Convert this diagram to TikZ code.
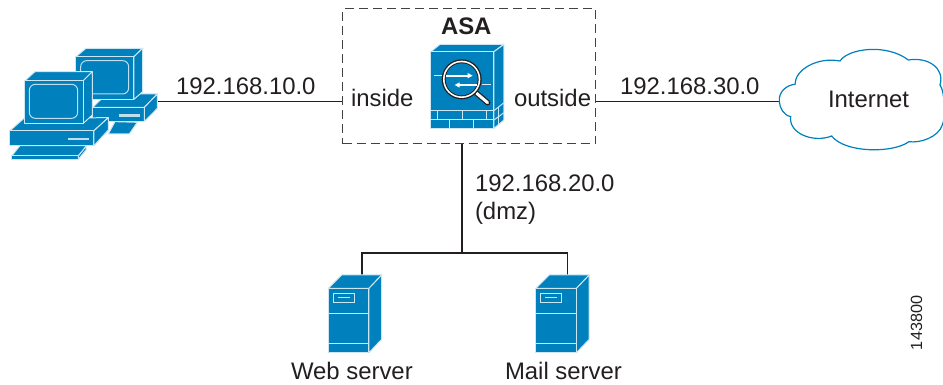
\documentclass[tikz,border=0pt]{standalone}
\usepackage{fontspec}
\setmainfont{Liberation Sans}
\definecolor{ciscoblue}{HTML}{0080BC}
\definecolor{inkc}{HTML}{231F20}
\tikzset{
  lbl/.style={anchor=base west,inner sep=0pt,outer sep=0pt,text=inkc,font=\fontsize{23.9}{26}\selectfont},
  wire/.style={draw=inkc,line width=1.1pt},
  face/.style={fill=ciscoblue,draw=white!80!ciscoblue,line width=1pt,line join=round},
  thin/.style={draw=white!80!ciscoblue,line width=1pt},
  cloudline/.style={draw=ciscoblue,line width=1.2pt,fill=white},
  pcscreen/.style={draw=white!75!ciscoblue,line width=1pt,rounded corners=6pt},
}
\newcommand{\serverunit}[2]{%
  \begin{scope}[shift={(#1,#2)},x=0.3333pt,y=-0.3333pt]
    \path[face] (115,145) -- (155,105) -- (275,105) -- (237,145) -- cycle;
    \path[face] (237,145) -- (275,105) -- (275,298) -- (237,338) -- cycle;
    \path[face] (115,145) rectangle (237,338);
    \draw[thin] (115,220) -- (237,220) (115,310) -- (237,310);
    \draw[thin] (130,160) rectangle (193,188);
    \draw[thin] (143,174) -- (180,174);
  \end{scope}}
\newcommand{\pcunit}[2]{%
  \begin{scope}[shift={(#1,#2)},x=0.3333pt,y=-0.3333pt]
    % keyboard
    \path[face] (35,378) -- (60,347) -- (260,347) -- (235,378) -- cycle;
    \path[face] (35,378) -- (235,378) -- (235,388) -- (35,388) -- cycle;
    \path[face] (235,378) -- (260,347) -- (258,360) -- (235,388) -- cycle;
    % base
    \path[face] (30,302) -- (72,265) -- (325,263) -- (282,302) -- cycle;
    \path[face] (30,302) rectangle (282,347);
    \path[face] (282,302) -- (325,263) -- (325,300) -- (282,347) -- cycle;
    \fill[white!75!ciscoblue] (205,323) rectangle (268,330);
    % monitor
    \path[face] (75,152) -- (105,125) -- (277,125) -- (250,152) -- cycle;
    \path[face] (250,152) -- (277,125) -- (277,255) -- (250,280) -- cycle;
    \path[face] (75,152) rectangle (250,280);
    \draw[pcscreen] (88,163) rectangle (233,265);
  \end{scope}}
\begin{document}
\begin{tikzpicture}[x=1pt,y=-1pt]
\useasboundingbox (0,0) rectangle (943,385);

% anchors for connectors
\coordinate (pc) at (158,101.7);
\coordinate (boxL) at (343,101.7);
\coordinate (boxR) at (596,101.7);
\coordinate (cloudL) at (779,101.7);
\coordinate (boxB) at (462,144);
\coordinate (tee) at (462,253);
\coordinate (webtop) at (362,275);
\coordinate (mailtop) at (567.7,275);

% connectors
\draw[wire] (pc) -- (boxL);
\draw[wire] (boxR) -- (cloudL);
\draw[wire] (boxB) -- (tee);
\draw[wire] (webtop) |- (tee) -| (mailtop);

% PCs (back one first)
\begin{scope}[shift={(0,30)},x=0.3333pt,y=-0.3333pt]
  \path[face] (325,312) -- (345,275) -- (412,277) -- (388,312) -- cycle;
  \path[face] (278,232) -- (320,192) -- (472,192) -- (433,232) -- cycle;
  \path[face] (278,232) rectangle (433,275);
  \path[face] (433,232) -- (472,192) -- (472,235) -- (433,275) -- cycle;
  \fill[white!75!ciscoblue] (357,253) rectangle (420,260);
  \path[face] (228,80) -- (258,55) -- (428,55) -- (402,80) -- cycle;
  \path[face] (402,80) -- (428,55) -- (428,185) -- (402,208) -- cycle;
  \path[face] (228,80) rectangle (402,208);
  \draw[pcscreen] (242,92) rectangle (386,192);
\end{scope}
\pcunit{0}{30}

% ASA dashed box
\node[draw=inkc!85!white,dashed,dash pattern=on 9pt off 5pt,line width=1pt,fill=none,
      minimum width=253pt,minimum height=135pt,inner sep=0pt] (asabox) at (469.2,76.5) {};

% ASA icon
\begin{scope}[shift={(340,0)},x=0.3333pt,y=-0.3333pt]
  \path[face] (273,155) -- (300,133) -- (492,133) -- (462,155) -- cycle;
  \path[face] (462,155) -- (492,133) -- (492,360) -- (462,385) -- cycle;
  \path[face] (273,155) rectangle (462,385);
  % firewall
  \draw[thin] (273,332) -- (462,332) (273,360) -- (462,360);
  \draw[thin] (293,332) -- (293,360) (367,332) -- (367,360) (440,332) -- (440,360);
  \draw[thin] (328,360) -- (328,385) (402,360) -- (402,385);
  \draw[thin] (462,332) -- (492,308) (462,360) -- (492,338);
  \draw[thin] (477,320) -- (477,347) (477,372) -- (477,349);
  % traffic lines behind lens
  \draw[white!85!ciscoblue,line width=1pt] (283,227) -- (310,227) (425,255) -- (453,255);
  % lens
  \draw[inkc,line width=5.5pt,line cap=round] (410,280) -- (443,308);
  \draw[white,line width=3pt,line cap=round] (410,280) -- (443,308);
  \fill[inkc] (365,238) circle[radius=60];
  \fill[white] (365,238) circle[radius=56];
  \fill[inkc] (365,238) circle[radius=51];
  \fill[ciscoblue] (365,238) circle[radius=48];
  % arrows
  \draw[white,line width=1.8pt] (318,227) -- (385,227);
  \fill[white] (398,227) -- (383,219) -- (383,235) -- cycle;
  \draw[white,line width=1.8pt] (412,255) -- (358,255);
  \fill[white] (344,255) -- (359,247) -- (359,263) -- cycle;
\end{scope}

% servers
\serverunit{290}{240}
\serverunit{497.5}{240}

% cloud
\begin{scope}[shift={(770,50)},x=0.3333pt,y=-0.3333pt]
  \path[cloudline]
    (28,155) .. controls (25,125) and (50,105) .. (75,103)
    .. controls (75,60) and (140,20) .. (210,33)
    .. controls (235,-5) and (350,-20) .. (415,30)
    .. controls (475,20) and (525,55) .. (510,105)
    .. controls (525,125) and (527,205) .. (517,225)
    .. controls (505,262) and (450,280) .. (417,275)
    .. controls (370,310) and (225,310) .. (185,258)
    .. controls (130,280) and (55,250) .. (62,200)
    .. controls (40,195) and (30,175) .. (28,155) -- cycle;
\end{scope}

% labels
\node[lbl] (l10) at (176,95) {192.168.10.0};
\node[lbl] (l30) at (620,95) {192.168.30.0};
\node[lbl] (lin) at (351,107) {inside};
\node[lbl] (lout) at (514,107) {outside};
\node[lbl,font=\fontsize{23.9}{26}\selectfont\bfseries] (lasa) at (441,35) {ASA};
\node[lbl] (lnet) at (828,108) {Internet};
\node[lbl] (l20) at (475,192) {192.168.20.0};
\node[lbl] (ldmz) at (475,219) {(dmz)};
\node[lbl] (lweb) at (291,379) {Web server};
\node[lbl] (lmail) at (505,379) {Mail server};
\node[lbl,font=\fontsize{16.2}{18}\selectfont,rotate=90] (lnum) at (922,350) {143800};
\end{tikzpicture}
\end{document}
